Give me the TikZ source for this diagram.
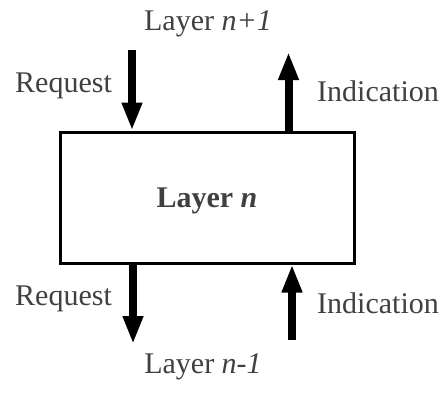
\documentclass[tikz,border=0pt]{standalone}
\usepackage{fontspec}
\setmainfont{Liberation Serif}
\usetikzlibrary{arrows.meta}
\definecolor{txt}{HTML}{404040}
\begin{document}
\begin{tikzpicture}[x=1pt,y=-1pt,
  lbl/.style={inner sep=0pt,text=txt,font=\fontsize{30}{36}\selectfont},
  layerbox/.style={draw=black,line width=3pt,minimum width=294pt,minimum height=131pt,inner sep=0pt,text=txt,text depth=0pt,font=\fontsize{30}{36}\selectfont\bfseries},
  bigarrow/.style={line width=8pt,-{Triangle[width=19pt,length=28pt]}}]
\useasboundingbox (0,0) rectangle (447,416);
\node[layerbox] (layer) at (207,197.5) {Layer \textit{n}};
\node[lbl,anchor=base] (top) at (208,30) {Layer \textit{n+1}};
\node[lbl,anchor=base] (bot) at (203,373) {Layer \textit{n-1}};
\node[lbl,anchor=base west] (req1) at (15,92) {Request};
\node[lbl,anchor=base west] (ind1) at (317,101) {Indication};
\node[lbl,anchor=base west] (req2) at (15,305) {Request};
\node[lbl,anchor=base west] (ind2) at (317,313) {Indication};
\coordinate (rq1) at (132,50);
\coordinate (in1) at (288.5,52);
\coordinate (rq2) at (133,344);
\coordinate (in2) at (292,340);
\draw[bigarrow] (rq1) -- (rq1 |- layer.north);
\draw[bigarrow] (in1 |- layer.north) -- (in1);
\draw[bigarrow] (rq2 |- layer.south) -- (rq2);
\draw[bigarrow] (in2) -- (in2 |- layer.south);
\end{tikzpicture}
\end{document}
